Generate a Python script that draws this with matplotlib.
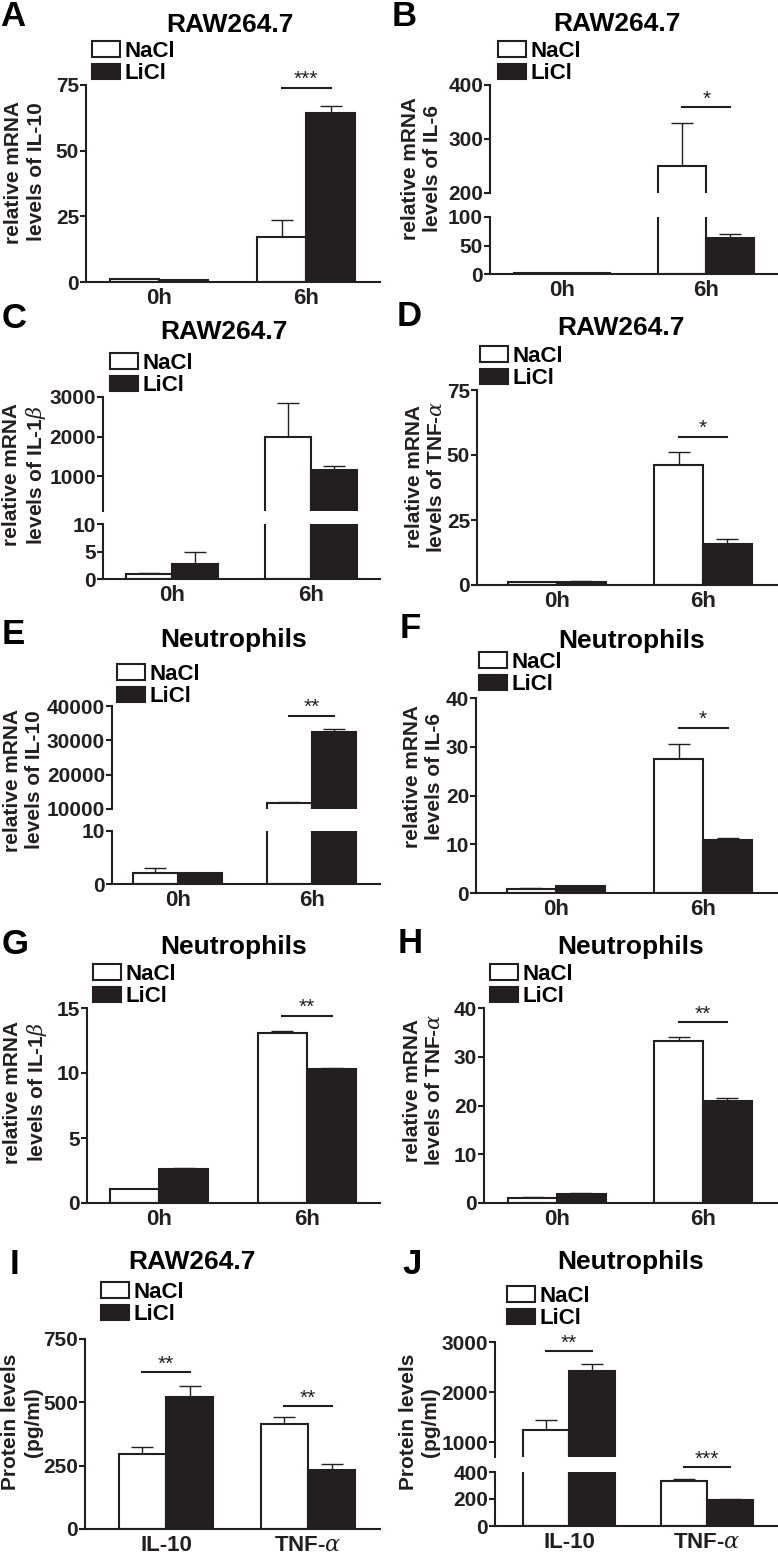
import matplotlib.pyplot as plt
import numpy as np
from matplotlib.patches import Patch

plt.rcParams['font.family'] = ['Liberation Sans', 'DejaVu Sans']
plt.rcParams['font.weight'] = 'bold'
plt.rcParams['mathtext.fontset'] = 'custom'
plt.rcParams['mathtext.it'] = 'DejaVu Serif:italic:normal'
plt.rcParams['mathtext.rm'] = 'DejaVu Serif:normal'

INK = '#231f20'
W, H = 778, 1557

times = ['0h', '6h']
proteins = ['IL-10', r'TNF-$\alpha$']

# --- values (mean, upper error) ---
a_nacl, a_nacl_err = [1.0, 17.0], [0.1, 6.5]
a_licl, a_licl_err = [0.8, 64.5], [0.1, 2.5]
a_sig = [(1, 74, '***')]

b_nacl, b_nacl_err = [1.0, 250.0], [0.2, 80.0]
b_licl, b_licl_err = [2.0, 63.0], [0.3, 7.0]
b_sig = [(1, 359, '*')]

c_nacl, c_nacl_err = [1.0, 1980.0], [0.1, 870.0]
c_licl, c_licl_err = [2.8, 1150.0], [2.1, 110.0]
c_sig = []

d_nacl, d_nacl_err = [1.0, 46.0], [0.1, 5.2]
d_licl, d_licl_err = [1.3, 15.7], [0.1, 2.1]
d_sig = [(1, 57, '*')]

e_nacl, e_nacl_err = [2.0, 11800.0], [1.0, 100.0]
e_licl, e_licl_err = [2.1, 32500.0], [0.05, 700.0]
e_sig = [(1, 37200, '**')]

f_nacl, f_nacl_err = [0.9, 27.5], [0.1, 3.0]
f_licl, f_licl_err = [1.4, 10.8], [0.1, 0.5]
f_sig = [(1, 33.9, '*')]

g_nacl, g_nacl_err = [1.06, 13.1], [0.05, 0.15]
g_licl, g_licl_err = [2.63, 10.3], [0.05, 0.08]
g_sig = [(1, 14.4, '**')]

h_nacl, h_nacl_err = [1.1, 33.15], [0.05, 0.8]
h_licl, h_licl_err = [1.9, 20.96], [0.05, 0.5]
h_sig = [(1, 37.1, '**')]

i_nacl, i_nacl_err = [297.0, 416.0], [25.0, 25.0]
i_licl, i_licl_err = [521.0, 234.0], [42.0, 23.0]
i_sig = [(0, 618, '**'), (1, 484, '**')]

j_nacl, j_nacl_err = [1247.0, 331.0], [200.0, 15.0]
j_licl, j_licl_err = [2413.0, 191.0], [147.0, 8.0]
j_sig = [(0, 2813, '**'), (1, 437, '***')]

RAW = 'RAW264.7'
NEU = 'Neutrophils'
LBL_MRNA = 'relative mRNA\nlevels of '

# layout in pixels: segments are (top_px, bottom_px, ylim, ticks) from top to bottom
panels = [
    dict(letter='A', title=RAW, ylabel=LBL_MRNA + 'IL-10', cats=times,
         data=(a_nacl, a_nacl_err, a_licl, a_licl_err), sig=a_sig,
         letter_xy=(0, 17), title_xy=(230, 25), ylabel_xy=(25, 172), legend_xy=(92, 41),
         axlr=(86, 380), xlim=(-0.497, 1.503),
         segs=[(85, 282, (0, 75), [0, 25, 50, 75])]),
    dict(letter='B', title=RAW, ylabel=LBL_MRNA + 'IL-6', cats=times,
         data=(b_nacl, b_nacl_err, b_licl, b_licl_err), sig=b_sig,
         letter_xy=(392, 16), title_xy=(617, 24), ylabel_xy=(422, 168), legend_xy=(498, 41),
         axlr=(490, 777), xlim=(-0.5, 1.49),
         segs=[(85, 193, (200, 400), [200, 300, 400]),
               (217, 274, (0, 100), [0, 50, 100])]),
    dict(letter='C', title=RAW, ylabel=LBL_MRNA + r'IL-1$\beta$', cats=times,
         data=(c_nacl, c_nacl_err, c_licl, c_licl_err), sig=c_sig,
         letter_xy=(2, 319), title_xy=(224, 332), ylabel_xy=(25, 475), legend_xy=(110, 353),
         axlr=(103, 380), xlim=(-0.496, 1.496),
         segs=[(397, 511, (114, 3000), [1000, 2000, 3000]),
               (524, 579, (0, 10), [0, 5, 10])]),
    dict(letter='D', title=RAW, ylabel=LBL_MRNA + r'TNF-$\alpha$', cats=times,
         data=(d_nacl, d_nacl_err, d_licl, d_licl_err), sig=d_sig,
         letter_xy=(397, 317), title_xy=(621, 328), ylabel_xy=(426, 477), legend_xy=(480, 346),
         axlr=(477, 777), xlim=(-0.548, 1.507),
         segs=[(390, 585, (0, 75), [0, 25, 50, 75])]),
    dict(letter='E', title=NEU, ylabel=LBL_MRNA + 'IL-10', cats=times,
         data=(e_nacl, e_nacl_err, e_licl, e_licl_err), sig=e_sig,
         letter_xy=(2, 635), title_xy=(234, 640), ylabel_xy=(24, 780), legend_xy=(117, 664),
         axlr=(112, 380), xlim=(-0.49, 1.51),
         segs=[(706, 809, (10000, 40000), [10000, 20000, 30000, 40000]),
               (831, 884, (0, 10), [0, 10])]),
    dict(letter='F', title=NEU, ylabel=LBL_MRNA + 'IL-6', cats=times,
         data=(f_nacl, f_nacl_err, f_licl, f_licl_err), sig=f_sig,
         letter_xy=(400, 628), title_xy=(632, 641), ylabel_xy=(424, 776), legend_xy=(479, 652),
         axlr=(476, 777), xlim=(-0.544, 1.503),
         segs=[(698, 893, (0, 40), [0, 10, 20, 30, 40])]),
    dict(letter='G', title=NEU, ylabel=LBL_MRNA + r'IL-1$\beta$', cats=times,
         data=(g_nacl, g_nacl_err, g_licl, g_licl_err), sig=g_sig,
         letter_xy=(2, 944), title_xy=(234, 947), ylabel_xy=(26, 1092), legend_xy=(93, 964),
         axlr=(87, 380), xlim=(-0.486, 1.493),
         segs=[(1008, 1203, (0, 15), [0, 5, 10, 15])]),
    dict(letter='H', title=NEU, ylabel=LBL_MRNA + r'TNF-$\alpha$', cats=times,
         data=(h_nacl, h_nacl_err, h_licl, h_licl_err), sig=h_sig,
         letter_xy=(398, 943), title_xy=(631, 947), ylabel_xy=(424, 1090), legend_xy=(490, 964),
         axlr=(484, 777), xlim=(-0.5, 1.507),
         segs=[(1008, 1203, (0, 40), [0, 10, 20, 30, 40])]),
    dict(letter='I', title=RAW, ylabel='Protein levels\n(pg/ml)', cats=proteins,
         data=(i_nacl, i_nacl_err, i_licl, i_licl_err), sig=i_sig,
         letter_xy=(10, 1265), title_xy=(192, 1262), ylabel_xy=(22, 1422), legend_xy=(101, 1282),
         axlr=(85, 380), xlim=(-0.57, 1.507),
         segs=[(1339, 1529, (0, 750), [0, 250, 500, 750])]),
    dict(letter='J', title=NEU, ylabel='Protein levels\n(pg/ml)', cats=proteins,
         data=(j_nacl, j_nacl_err, j_licl, j_licl_err), sig=j_sig,
         letter_xy=(402, 1264), title_xy=(631, 1262), ylabel_xy=(419, 1422), legend_xy=(507, 1286),
         axlr=(495, 777), xlim=(-0.536, 1.507),
         segs=[(1342, 1457, (700, 3000), [1000, 2000, 3000]),
               (1472, 1526, (0, 400), [0, 200, 400])]),
]

BW = 1 / 3
fig = plt.figure(figsize=(W / 100, H / 100), dpi=100)


def fx(x):
    return x / W


def fy(y):
    return 1 - y / H


def draw_panel(p):
    nacl, nacl_err, licl, licl_err = p['data']
    x = np.arange(len(p['cats']))
    left, right = p['axlr']
    axes = []
    for k, (top, bottom, ylim, ticks) in enumerate(p['segs']):
        ax = fig.add_axes([fx(left), fy(bottom), (right - left) / W, (bottom - top) / H])
        ax.bar(x - BW / 2, nacl, BW, color='white', edgecolor=INK, linewidth=1.5, zorder=2)
        ax.bar(x + BW / 2, licl, BW, color=INK, edgecolor=INK, linewidth=1.5, zorder=2)
        ax.errorbar(x - BW / 2, nacl, yerr=[np.zeros(len(x)), nacl_err], fmt='none',
                    ecolor=INK, elinewidth=1, capsize=8, capthick=1, zorder=1)
        ax.errorbar(x + BW / 2, licl, yerr=[np.zeros(len(x)), licl_err], fmt='none',
                    ecolor=INK, elinewidth=1, capsize=8, capthick=1, zorder=1)
        ax.set_xlim(*p['xlim'])
        ax.set_ylim(*ylim)
        ax.set_yticks(ticks)
        ax.set_yticklabels([str(t) for t in ticks])
        for s in ['top', 'right']:
            ax.spines[s].set_visible(False)
        for s in ['left', 'bottom']:
            ax.spines[s].set_linewidth(1.5)
            ax.spines[s].set_color(INK)
        ax.tick_params(axis='y', length=4, width=1.5, pad=1, labelsize=15, colors=INK)
        last = k == len(p['segs']) - 1
        if last:
            ax.set_xticks(x)
            ax.set_xticklabels(p['cats'])
            ax.tick_params(axis='x', length=0, pad=4, labelsize=16, colors=INK)
        else:
            ax.spines['bottom'].set_visible(False)
            ax.set_xticks([])
        ax.patch.set_visible(False)
        axes.append(ax)

    # significance bars
    for g, yv, stars in p['sig']:
        target = axes[-1]
        for ax, (_, _, ylim, _) in zip(axes, p['segs']):
            if ylim[0] <= yv <= ylim[1]:
                target = ax
                break
        target.plot([g - BW / 2, g + BW / 2], [yv, yv], color=INK, lw=1.5, clip_on=False, zorder=4)
        target.annotate(stars, (g, yv), xytext=(0, -1), textcoords='offset points',
                        ha='center', va='bottom', fontsize=15, fontweight='normal',
                        color=INK, annotation_clip=False)

    fig.text(fx(p['title_xy'][0]), fy(p['title_xy'][1]), p['title'], ha='center', va='center',
             fontsize=19, color='black')
    fig.text(fx(p['letter_xy'][0]), fy(p['letter_xy'][1]), p['letter'], ha='left', va='center',
             fontsize=25, color='black')
    fig.text(fx(p['ylabel_xy'][0]), fy(p['ylabel_xy'][1]), p['ylabel'], rotation=90,
             ha='center', va='center', fontsize=15, multialignment='center', color=INK,
             linespacing=1.2)

    handles = [Patch(facecolor='white', edgecolor=INK, linewidth=1.5, label='NaCl'),
               Patch(facecolor=INK, edgecolor=INK, linewidth=1.5, label='LiCl')]
    fig.legend(handles=handles, loc='upper left',
               bbox_to_anchor=(fx(p['legend_xy'][0]), fy(p['legend_xy'][1])),
               frameon=False, fontsize=16, handlelength=1.25, handleheight=0.7,
               handletextpad=0.2, labelspacing=0.05, borderpad=0, borderaxespad=0)


for p in panels:
    draw_panel(p)

fig.savefig('out.png', dpi=100)
